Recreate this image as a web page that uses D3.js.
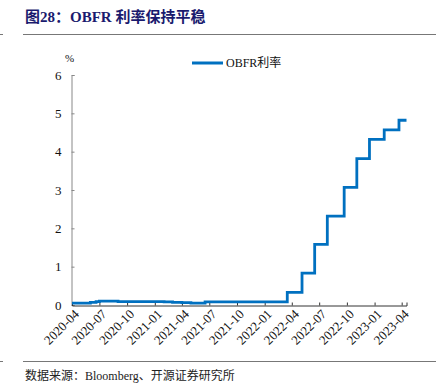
<!DOCTYPE html>
<html>
<head>
<meta charset="utf-8">
<script src="https://d3js.org/d3.v7.min.js"></script>
<style>
  body { margin: 0; background: #fff; }
  text { font-family: "Liberation Serif", "Noto Sans CJK SC", serif; }
</style>
</head>
<body>
<svg id="chart" width="436" height="385"></svg>
<script>
// OBFR rate, % (step changes at each Fed move)
const dates = ["2020-04-01","2020-05-01","2020-06-01","2020-06-20","2020-07-01","2020-09-01",
  "2020-11-01","2021-01-01","2021-02-01","2021-03-01","2021-04-01","2021-05-01","2021-06-17",
  "2022-03-17","2022-05-05","2022-06-16","2022-07-28","2022-09-22","2022-11-03","2022-12-15",
  "2023-02-02","2023-03-23","2023-04-17"];
const rates = [0.05,0.05,0.07,0.09,0.10,0.09,0.09,0.09,0.08,0.07,0.06,0.05,0.08,
  0.33,0.83,1.58,2.32,3.07,3.82,4.32,4.57,4.82,4.82];
const yTicks = [0,1,2,3,4,5,6];
const seriesName = "OBFR利率";

const parse = d3.timeParse("%Y-%m-%d");
const data = dates.map((d, i) => ({ date: parse(d), value: rates[i] }));

const svg = d3.select("#chart");

// title + rules
svg.append("text").attr("x", 25).attr("y", 22)
  .attr("font-size", 15).attr("font-weight", "bold").attr("fill", "#1a1a6e")
  .text("图28：OBFR 利率保持平稳");
svg.append("line").attr("x1", 23).attr("x2", 436).attr("y1", 34.5).attr("y2", 34.5)
  .attr("stroke", "#777").attr("stroke-width", 1);
svg.append("line").attr("x1", 0).attr("x2", 3).attr("y1", 34.5).attr("y2", 34.5)
  .attr("stroke", "#777").attr("stroke-width", 1);
svg.append("line").attr("x1", 23).attr("x2", 436).attr("y1", 361.5).attr("y2", 361.5)
  .attr("stroke", "#777").attr("stroke-width", 1);
svg.append("line").attr("x1", 0).attr("x2", 3).attr("y1", 361.5).attr("y2", 361.5)
  .attr("stroke", "#777").attr("stroke-width", 1);
svg.append("text").attr("x", 25).attr("y", 380)
  .attr("font-size", 12).attr("fill", "#222")
  .text("数据来源：Bloomberg、开源证券研究所");

const x = d3.scaleTime()
  .domain([parse("2020-04-01"), parse("2023-04-17")])
  .range([72, 406.5]);
const y = d3.scaleLinear().domain([0, 6]).range([305, 75]);

// y axis
const yAxis = svg.append("g").attr("transform", "translate(71.5,0)")
  .call(d3.axisLeft(y).tickValues(yTicks).tickSize(-3).tickPadding(10).tickFormat(d3.format("d")));
yAxis.select(".domain").attr("stroke", "#888");
yAxis.selectAll(".tick line").attr("stroke", "#888");
yAxis.selectAll("text").attr("font-size", 13).attr("fill", "#111")
  .style("font-family", "Liberation Serif");
svg.append("text").attr("x", 65).attr("y", 62).attr("font-size", 11).attr("fill", "#111").text("%");

// x axis
const xAxis = svg.append("g").attr("transform", "translate(0,305.5)")
  .call(d3.axisBottom(x).ticks(d3.timeMonth.every(3)).tickSize(-3).tickPadding(6)
    .tickFormat(d3.timeFormat("%Y-%m")));
xAxis.select(".domain").attr("stroke", "#333");
xAxis.selectAll(".tick line").attr("stroke", "#333");
xAxis.selectAll("text").attr("font-size", 13).attr("fill", "#111")
  .style("font-family", "Liberation Serif")
  .attr("text-anchor", "end")
  .attr("transform", "rotate(-45)")
  .attr("dx", "-0.1em").attr("dy", "0.45em");

// series
const line = d3.line().x(d => x(d.date)).y(d => y(d.value)).curve(d3.curveStepAfter);
svg.append("path").datum(data)
  .attr("fill", "none").attr("stroke", "#0070c0").attr("stroke-width", 2.8)
  .attr("d", line);

// legend
svg.append("line").attr("x1", 192).attr("x2", 223).attr("y1", 63).attr("y2", 63)
  .attr("stroke", "#0070c0").attr("stroke-width", 3);
svg.append("text").attr("x", 226).attr("y", 67).attr("font-size", 12).attr("fill", "#111")
  .text(seriesName);
</script>
</body>
</html>
